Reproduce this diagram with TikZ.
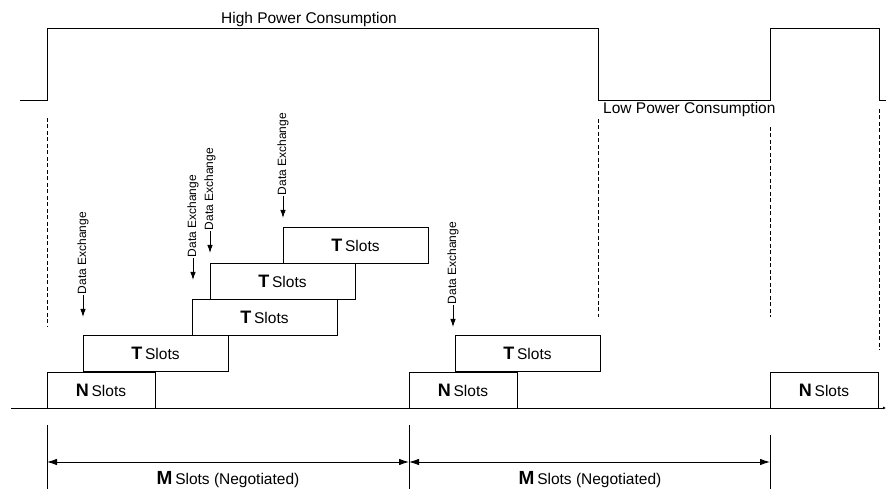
\documentclass[tikz,border=0pt]{standalone}
\usepackage{fontspec}
\setmainfont{Liberation Sans}
\usetikzlibrary{arrows.meta}
\newcommand\slotlabel[1]{{\fontsize{18bp}{20bp}\selectfont\bfseries #1} {\fontsize{15.5bp}{18bp}\selectfont Slots}}
\newcommand\mlabel{{\fontsize{19bp}{21bp}\selectfont\bfseries M} {\fontsize{15.5bp}{18bp}\selectfont Slots (Negotiated)}}
\begin{document}
\begin{tikzpicture}[x=1bp,y=1bp,
  sig/.style={line width=0.9bp},
  guide/.style={line width=0.7bp, dash pattern=on 4bp off 2.5bp},
  slotbox/.style={draw, line width=0.9bp, anchor=south west, minimum height=36bp, inner sep=0pt, outer sep=0pt},
  tbox/.style={slotbox, minimum width=145bp},
  nbox/.style={slotbox, minimum width=108bp},
  dx/.style={-{Latex[length=8bp,width=5.5bp]}, line width=0.9bp},
  dxlabel/.style={rotate=90, anchor=west, inner sep=0.5bp, font=\fontsize{12bp}{14bp}\selectfont},
  dim/.style={{Latex[length=10bp,width=6.5bp]}-{Latex[length=10bp,width=6.5bp]}, line width=0.9bp},
  lbl/.style={inner sep=0pt, font=\fontsize{15.5bp}{18bp}\selectfont}
]
\useasboundingbox (0,0) rectangle (886,489);

% power signal
\coordinate (p0) at (20,389);
\coordinate (p1) at (47,389);
\coordinate (p2) at (47,461);
\coordinate (p3) at (598,461);
\coordinate (p4) at (598,389);
\coordinate (p5) at (770,389);
\coordinate (p6) at (770,461);
\coordinate (p7) at (879,461);
\coordinate (p8) at (879,389);
\coordinate (p9) at (886,389);
\draw[sig] (p0) -- (p1) -- (p2) -- (p3) -- (p4) -- (p5) -- (p6) -- (p7) -- (p8) -- (p9);
\node[lbl] (high) at (309,469) {High Power Consumption};
\node[lbl, anchor=west] (low) at (603,379) {Low Power Consumption};

% dashed guides
\coordinate (g1a) at (47,371); \coordinate (g1b) at (47,162);
\coordinate (g2a) at (598,370); \coordinate (g2b) at (598,172);
\coordinate (g3a) at (770,362); \coordinate (g3b) at (770,172);
\coordinate (g4a) at (879,380); \coordinate (g4b) at (879,139);
\draw[guide] (g1a) -- (g1b);
\draw[guide] (g2a) -- (g2b);
\draw[guide] (g3a) -- (g3b);
\draw[guide] (g4a) -- (g4b);

% time axis
\coordinate (ax0) at (11,81);
\coordinate (ax1) at (886,81);
\draw[line width=0.9bp, -{Latex[length=3bp,width=3bp]}] (ax0) -- (ax1);

% slot boxes
\node[nbox] (n1) at (47,81) {\slotlabel{N}};
\node[tbox] (t1) at (83,118) {\slotlabel{T}};
\node[tbox] (t3) at (192,154) {\slotlabel{T}};
\node[tbox] (t4) at (210,190) {\slotlabel{T}};
\node[tbox] (t5) at (283,226) {\slotlabel{T}};
\node[nbox] (n2) at (409,81) {\slotlabel{N}};
\node[tbox] (t2) at (455,118) {\slotlabel{T}};
\node[nbox] (n3) at (770,81) {\slotlabel{N}};

% data exchange arrows
\coordinate (a1s) at (83,194); \coordinate (a1t) at (83,172);
\coordinate (a3s) at (193,231); \coordinate (a3t) at (193,209);
\coordinate (a4s) at (210,258); \coordinate (a4t) at (210,236);
\coordinate (a5s) at (283,293); \coordinate (a5t) at (283,271);
\coordinate (a2s) at (453,184); \coordinate (a2t) at (453,162);
\foreach \a in {a1,a2,a3,a4,a5}{
  \draw[dx] (\a s) -- (\a t);
  \node[dxlabel] (\a lab) at (\a s) {Data Exchange};
}

% dimension lines
\coordinate (d1a) at (47,64); \coordinate (d1b) at (47,0);
\coordinate (d2a) at (409,64); \coordinate (d2b) at (409,0);
\coordinate (d3a) at (770,54); \coordinate (d3b) at (770,0);
\draw[line width=0.9bp] (d1a) -- (d1b);
\draw[line width=0.9bp] (d2a) -- (d2b);
\draw[line width=0.9bp] (d3a) -- (d3b);
\coordinate (m1a) at (47,27); \coordinate (m1b) at (409,27);
\coordinate (m2a) at (409,27); \coordinate (m2b) at (770,27);
\draw[dim] (m1a) -- (m1b);
\draw[dim] (m2a) -- (m2b);
\node[inner sep=0pt, anchor=base] (m1) at (228,4.5) {\mlabel};
\node[inner sep=0pt, anchor=base] (m2) at (590,4.5) {\mlabel};
\end{tikzpicture}
\end{document}
